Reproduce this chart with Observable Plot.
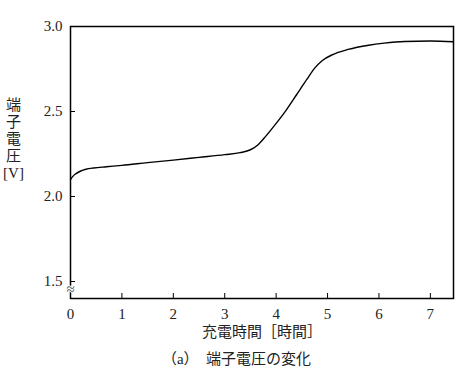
<!DOCTYPE html>
<html><head><meta charset="utf-8">
<script src="https://cdn.jsdelivr.net/npm/d3@7"></script>
<script src="https://cdn.jsdelivr.net/npm/@observablehq/plot@0.6"></script>
<style>
body{margin:0;background:#fff;font-family:"Liberation Serif","Times New Roman","DejaVu Serif","Noto Sans CJK JP",serif;}
svg text{font-family:"Liberation Serif","Times New Roman","DejaVu Serif","Noto Sans CJK JP",serif !important;}
#cap{width:465px;text-align:center;font-size:15px;color:#222;margin-top:2px;padding-left:8px;box-sizing:border-box;}
</style></head><body>
<div id="chart"></div>
<div id="cap">（a）　端子電圧の変化</div>
<script>
const hours = [0,0.05,0.1,0.2,0.3,0.45,0.7,1.0,1.5,2.0,2.5,3.0,3.3,3.5,3.65,3.8,4.0,4.2,4.4,4.6,4.75,4.9,5.1,5.4,5.8,6.1,6.5,7.0,7.45];
const volts = [2.10,2.12,2.133,2.150,2.160,2.168,2.175,2.183,2.199,2.214,2.230,2.246,2.258,2.275,2.305,2.355,2.43,2.51,2.60,2.69,2.755,2.80,2.835,2.865,2.89,2.902,2.912,2.915,2.91];
const xTicks = [0,1,2,3,4,5,6,7];
const yTicks = [1.5,2.0,2.5,3.0];
const xLabel = "充電時間［時間］";
const yLabel = "端\n子\n電\n圧\n[V]";
const breakMark = "≈";

const data = hours.map((h,i)=>({h, v: volts[i]}));

const plot = Plot.plot({
  width: 465, height: 345,
  marginLeft: 70, marginRight: 12, marginTop: 26, marginBottom: 47,
  style: {fontSize: "14px", color: "#222", background: "#fff"},
  x: {domain: [0, 7.45]},
  y: {domain: [1.4, 3.0]},
  marks: [
    Plot.frame({stroke: "#000", strokeWidth: 1.5}),
    Plot.axisX({ticks: xTicks, tickSize: -5, text: null, label: null, stroke: "#000"}),
    Plot.axisX({ticks: xTicks, tickSize: 0, tickPadding: 10, label: null, fontSize: 15}),
    Plot.axisY({ticks: yTicks, tickSize: -5, text: null, label: null, stroke: "#000"}),
    Plot.axisY({ticks: yTicks, tickSize: 0, tickPadding: 8, tickFormat: d3.format(".1f"), label: null, fontSize: 15}),
    Plot.text([xLabel], {frameAnchor: "bottom", dy: 38, fontSize: 15, fill: "#222", dx: 0}),
    Plot.text([yLabel], {frameAnchor: "left", dx: -57, dy: -24, textAnchor: "middle", fontSize: 15, lineHeight: 1.13, fill: "#222"}),
    Plot.text([breakMark], {frameAnchor: "bottom-left", dy: -5, textAnchor: "middle", fontSize: 15, fill: "#444", stroke: "#fff", strokeWidth: 2, paintOrder: "stroke"}),
    Plot.line(data, {x: "h", y: "v", curve: "monotone-x", stroke: "#000", strokeWidth: 1.4})
  ]
});
document.getElementById("chart").appendChild(plot);
</script>
</body></html>
